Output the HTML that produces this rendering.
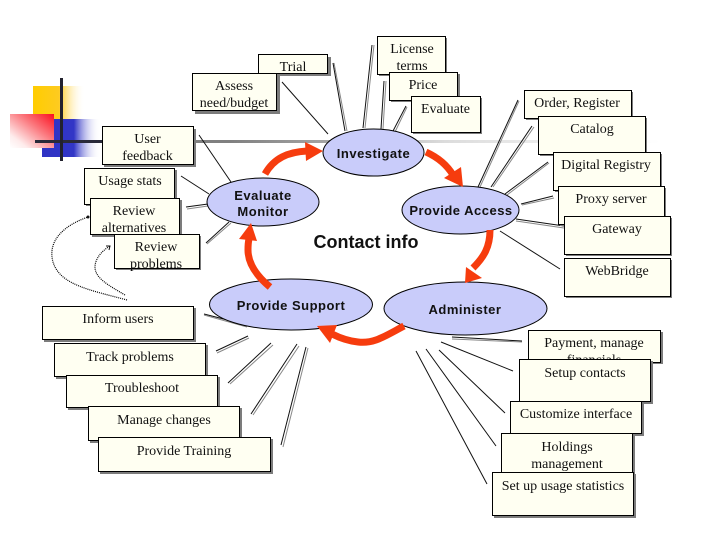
<!DOCTYPE html>
<html><head><meta charset="utf-8"><style>
html,body{margin:0;padding:0;background:#fff;width:720px;height:540px;overflow:hidden}
svg{display:block}
.s{font-family:"Liberation Serif",serif;font-size:14px;fill:#111;text-anchor:middle}
.b{font-family:"Liberation Sans",sans-serif;font-size:13px;font-weight:bold;fill:#111;text-anchor:middle;letter-spacing:.5px}
.e{fill:#c9ccfa;stroke:#000;stroke-width:1}
.r{fill:#fffff2;stroke:#000;stroke-width:1}
.sh{fill:#7c7c7c}
.a{fill:none;stroke:#f63c0e;stroke-width:7}
.h{fill:#f63c0e}
.l1{stroke:#111;stroke-width:1;fill:none}
.l2{stroke:#888;stroke-width:1;fill:none}
.d{fill:none;stroke:#000;stroke-width:1.2;stroke-dasharray:1 1}
</style></head><body>
<svg width="720" height="540" viewBox="0 0 720 540" xmlns="http://www.w3.org/2000/svg">
<defs>
<linearGradient id="gy" x1="0" x2="1" y1="0" y2="0"><stop offset="0" stop-color="#fc0"/><stop offset=".5" stop-color="#fecb20"/><stop offset="1" stop-color="#fff" stop-opacity="0"/></linearGradient>
<linearGradient id="gb" x1="0" x2="1" y1="0" y2="0"><stop offset="0" stop-color="#2f33c4"/><stop offset=".55" stop-color="#3236c6"/><stop offset="1" stop-color="#fff" stop-opacity="0"/></linearGradient>
<linearGradient id="gr" x1="1" x2="0" y1="0" y2="1"><stop offset="0" stop-color="#fb0f1e"/><stop offset=".4" stop-color="#fb7a80"/><stop offset=".8" stop-color="#feecec"/><stop offset="1" stop-color="#fff"/></linearGradient>
<linearGradient id="gl" gradientUnits="userSpaceOnUse" x1="230" x2="660" y1="0" y2="0"><stop offset="0" stop-color="#808080"/><stop offset=".25" stop-color="#a8a8a8"/><stop offset=".5" stop-color="#dcdcdc"/><stop offset="1" stop-color="#fff"/></linearGradient>
</defs>

<rect x="33" y="86" width="52" height="45" fill="url(#gy)"/>
<rect x="42" y="119" width="58" height="38" fill="url(#gb)"/>
<rect x="10" y="114" width="44" height="34" fill="url(#gr)"/>
<rect x="35" y="140" width="200" height="3" fill="#2a2a3a"/>
<rect x="190" y="140" width="470" height="3" fill="url(#gl)"/>
<rect x="60" y="78" width="3" height="83" fill="#22222e"/>

<g class="l1">
<path d="M282 82L328 134M333 63L345 131M199 135L231 182M181 176L209 194M186 207L208 204M206 243L229 222"/>
<path d="M372 45L363 128M384 81L381 129M406 106L393 131M518 100L478 187M532 126L491 187M548 162L505 194M553 196L521 204M516 219L564 226M500 231L560 269"/>
<path d="M204 314L247 325M216 351L248 336M228 383L271 343M251 414L297 344M281 445L306 347"/>
<path d="M452 337L522 341M441 342L513 371M439 350L505 413M426 349L496 446M416 351L487 484"/>
</g>
<g class="l2">
<path d="M334 63L347 131M187 209L208 206M207 244L231 223"/>
<path d="M374 45L365 128M386 81L383 129M407 107L395 132M519 101L480 187M534 127L493 187M549 163L507 195M554 198L522 205M516 221L564 228"/>
<path d="M204 315L247 327M217 353L249 338M230 384L273 345M253 415L299 346M283 447L308 348"/>
<path d="M452 339L522 342"/>
</g>
<path class="d" d="M127 300C90 290 60 285 53 262C47 240 65 225 88 217"/>
<path class="d" d="M125 295C108 285 95 278 95 267C95 258 103 250 110 246"/>
<circle cx="88" cy="217" r="1.5" fill="#111"/>
<path class="l1" d="M106 246L110 246L109 250"/>

<ellipse class="e" cx="373.5" cy="152.5" rx="50.5" ry="23.5"/>
<ellipse class="e" cx="263" cy="202" rx="56" ry="24"/>
<ellipse class="e" cx="460.5" cy="210" rx="58.5" ry="24"/>
<ellipse class="e" cx="291" cy="304.5" rx="81.5" ry="25.5"/>
<ellipse class="e" cx="465.5" cy="308.5" rx="81.5" ry="26.5"/>

<path class="a" d="M265 174C274 158 288 152 307 151"/>
<polygon class="h" points="323,151 305,142 306,161"/>
<path class="a" d="M426 152C437 157 447 165 453 175"/>
<polygon class="h" points="463,187 444,178 461,167"/>
<path class="a" d="M490 230C490 247 484 257 473 268"/>
<polygon class="h" points="465,283 466,267 482,278"/>
<path class="a" d="M404 326C385 336 374 344 358 342C348 341 340 338 332 334"/>
<polygon class="h" points="317,326 337,325 330,343"/>
<path class="a" d="M270 287C258 277 248 264 248 250C248 246 248 243 249 239"/>
<polygon class="h" points="251,223 239,239 257,241"/>

<rect class="sh" x="261" y="57" width="70" height="19"/><rect class="r" x="258.5" y="54.5" width="69" height="19"/><text class="s" x="293" y="71">Trial</text>
<rect class="sh" x="195" y="76" width="85" height="38"/><rect class="r" x="192.5" y="73.5" width="84" height="37"/><text class="s" x="234" y="90">Assess</text><text class="s" x="234" y="107">need/budget</text>
<rect class="sh" x="104" y="129" width="92" height="38"/><rect class="r" x="102.5" y="126.5" width="91" height="38"/><text class="s" x="147.5" y="143">User</text><text class="s" x="147.5" y="160">feedback</text>
<rect class="sh" x="86" y="170" width="91" height="36"/><rect class="r" x="84.5" y="168.5" width="90" height="36"/><text class="s" x="130" y="185">Usage stats</text>
<rect class="sh" x="92" y="200" width="90" height="37"/><rect class="r" x="90.5" y="198.5" width="89" height="36"/><text class="s" x="134" y="215">Review</text><text class="s" x="134" y="232">alternatives</text>
<rect class="sh" x="116" y="236" width="85" height="34"/><rect class="r" x="114.5" y="234.5" width="85" height="34"/><text class="s" x="156" y="251">Review</text><text class="s" x="156" y="268">problems</text>

<rect class="sh" x="379" y="38" width="68" height="38"/><rect class="r" x="377.5" y="36.5" width="68" height="38"/><text class="s" x="412" y="53">License</text><text class="s" x="412" y="70">terms</text>
<rect class="sh" x="391" y="74" width="69" height="28"/><rect class="r" x="389.5" y="72.5" width="68" height="28"/><text class="s" x="423" y="89">Price</text>
<rect class="sh" x="413" y="98" width="69" height="36"/><rect class="r" x="411.5" y="96.5" width="69" height="36"/><text class="s" x="445.5" y="113">Evaluate</text>

<rect class="sh" x="526" y="92" width="107" height="28"/><rect class="r" x="524.5" y="90.5" width="107" height="28"/><text class="s" x="577" y="107">Order, Register</text>
<rect class="sh" x="540" y="118" width="107" height="38"/><rect class="r" x="538.5" y="116.5" width="107" height="38"/><text class="s" x="592" y="133">Catalog</text>
<rect class="sh" x="555" y="154" width="107" height="38"/><rect class="r" x="553.5" y="152.5" width="107" height="38"/><text class="s" x="606" y="169">Digital Registry</text>
<rect class="sh" x="560" y="188" width="106" height="38"/><rect class="r" x="558.5" y="186.5" width="106" height="38"/><text class="s" x="611" y="203">Proxy server</text>
<rect class="sh" x="566" y="218" width="106" height="38"/><rect class="r" x="564.5" y="216.5" width="106" height="38"/><text class="s" x="617" y="233">Gateway</text>
<rect class="sh" x="566" y="260" width="106" height="38"/><rect class="r" x="564.5" y="258.5" width="106" height="38"/><text class="s" x="617" y="275">WebBridge</text>

<rect class="sh" x="44" y="308" width="152" height="34"/><rect class="r" x="42.5" y="306.5" width="151" height="33"/><text class="s" x="118" y="323">Inform users</text>
<rect class="sh" x="56" y="345" width="152" height="34"/><rect class="r" x="54.5" y="343.5" width="151" height="33"/><text class="s" x="130" y="361">Track problems</text>
<rect class="sh" x="68" y="377" width="152" height="33"/><rect class="r" x="66.5" y="375.5" width="151" height="32"/><text class="s" x="142" y="392">Troubleshoot</text>
<rect class="sh" x="90" y="408" width="152" height="35"/><rect class="r" x="88.5" y="406.5" width="151" height="34"/><text class="s" x="164" y="424">Manage changes</text>
<rect class="sh" x="100" y="439" width="173" height="35"/><rect class="r" x="98.5" y="437.5" width="172" height="34"/><text class="s" x="184" y="455">Provide Training</text>

<rect class="sh" x="530" y="332" width="133" height="32"/><rect class="r" x="528.5" y="330.5" width="132" height="32"/><text class="s" x="594" y="347">Payment, manage</text><text class="s" x="594" y="364">financials</text>
<rect class="sh" x="521" y="361" width="132" height="43"/><rect class="r" x="519.5" y="359.5" width="131" height="42"/><text class="s" x="585" y="377">Setup contacts</text>
<rect class="sh" x="512" y="403" width="132" height="33"/><rect class="r" x="510.5" y="401.5" width="131" height="32"/><text class="s" x="576" y="418">Customize interface</text>
<rect class="sh" x="503" y="435" width="132" height="39"/><rect class="r" x="501.5" y="433.5" width="131" height="39"/><text class="s" x="567" y="451">Holdings</text><text class="s" x="567" y="468">management</text>
<rect class="sh" x="494" y="474" width="142" height="44"/><rect class="r" x="492.5" y="472.5" width="141" height="43"/><text class="s" x="563" y="490">Set up usage statistics</text>

<text class="b" x="373.5" y="158">Investigate</text>
<text class="b" x="263" y="200">Evaluate</text>
<text class="b" x="263" y="216">Monitor</text>
<text class="b" x="461" y="215">Provide Access</text>
<text class="b" x="291" y="310">Provide Support</text>
<text class="b" x="465" y="314">Administer</text>
<text x="366" y="248" style="font-family:'Liberation Sans',sans-serif;font-size:18px;font-weight:bold;fill:#111;text-anchor:middle">Contact info</text>
</svg>
</body></html>
